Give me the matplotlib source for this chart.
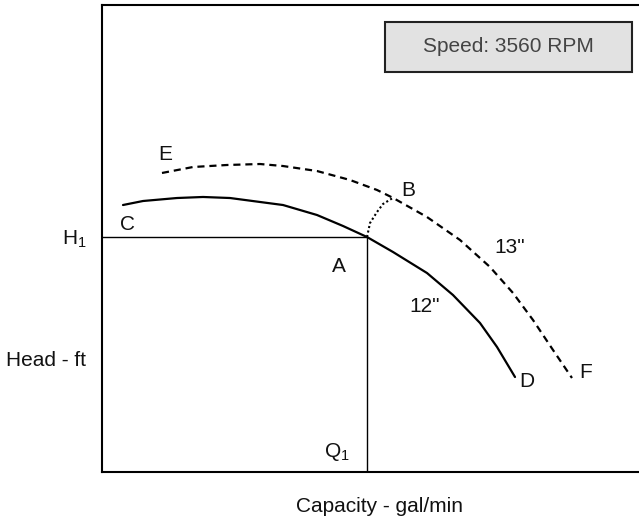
"""
Pump head-capacity curves for two impeller diameters at 3560 RPM.
"""
import matplotlib
matplotlib.use("Agg")
import matplotlib.pyplot as plt
from matplotlib.patches import Rectangle

plt.rcParams['font.family'] = ['Liberation Sans', 'DejaVu Sans']
plt.rcParams['mathtext.fontset'] = 'custom'
plt.rcParams['mathtext.rm'] = 'Liberation Sans'
plt.rcParams['mathtext.it'] = 'Liberation Sans'

# 12" impeller curve (C -> A -> D), capacity / head in relative units
q_12 = [3.91, 7.64, 13.97, 18.81, 23.84, 29.42, 33.71, 40.04, 44.88, 49.35,
        54.19, 60.52, 65.36, 70.39, 73.56, 76.91]
h_12 = [57.17, 58.03, 58.67, 58.89, 58.67, 57.82, 57.17, 55.03, 52.68, 50.32,
        47.11, 42.61, 37.90, 31.91, 26.77, 20.34]

# 13" impeller curve (E -> B -> F)
q_13 = [11.17, 16.95, 23.28, 29.42, 33.71, 40.04, 46.18, 51.21, 54.19, 60.52,
        66.67, 72.25, 76.54, 80.26, 83.99, 87.52]
h_13 = [64.03, 65.31, 65.74, 65.95, 65.52, 64.45, 62.53, 60.39, 58.70, 54.60,
        49.68, 43.90, 38.33, 32.55, 26.12, 20.13]

# A -> B path between the two curves
q_ab = [49.35, 49.91, 51.21, 52.33, 54.19]
h_ab = [50.32, 53.32, 55.67, 57.39, 58.70]

Q1 = 49.35
H1 = 50.32

# point labels: (text, capacity, head)
labels = [("E", 11.7, 67.9), ("C", 4.8, 53.1), ("B", 57.0, 60.2),
          ("A", 44.1, 43.9), ('13"', 76.0, 48.0), ('12"', 60.0, 35.5),
          ("D", 79.1, 19.3), ("F", 90.1, 21.2)]

fig = plt.figure(figsize=(6.39, 5.21), dpi=100)
ax = fig.add_axes([102 / 639, 49 / 521, 1.0 - 102 / 639, 467 / 521])
ax.set_xlim(0, 100)
ax.set_ylim(0, 100)

ax.plot(q_12, h_12, color='black', lw=1.6, solid_capstyle='round', solid_joinstyle='round')
ax.plot(q_13, h_13, color='black', lw=1.6, ls=(0, (3.2, 2.2)))
ax.plot(q_ab, h_ab, color='black', lw=1.5, ls=(0, (1, 1.2)))

# operating point guides
ax.plot([0, Q1], [H1, H1], color='black', lw=1.0)
ax.plot([Q1, Q1], [0, H1], color='black', lw=1.0)

for txt, q, h in labels:
    ax.text(q, h, txt, fontsize=15, ha='center', va='center', color='#111111')

ax.text(43.8, 4.3, r'Q$_1$', fontsize=15, ha='center', va='center', color='#111111')

ax.set_xticks([])
ax.set_yticks([H1])
ax.set_yticklabels([r'H$_1$'], fontsize=15, color='#111111')
ax.tick_params(axis='y', length=0, pad=11)

ax.set_ylabel('Head - ft', fontsize=15, rotation=0, ha='center', va='center', color='#111111')
ax.yaxis.set_label_coords(-56 / 537, (472 - 361) / 467)
ax.set_xlabel('Capacity - gal/min', fontsize=15, va='center', color='#111111')
ax.xaxis.set_label_coords((379 - 102) / 537, -35 / 467)

for side in ['left', 'bottom', 'top']:
    ax.spines[side].set_linewidth(1.5)
ax.spines['right'].set_visible(False)

# speed box
ax.add_patch(Rectangle((283 / 537, 400 / 467), 247 / 537, 50 / 467, transform=ax.transAxes,
                       fc='#e2e2e2', ec='#222222', lw=1.5))
ax.text(406 / 537, 425 / 467, 'Speed: 3560 RPM', transform=ax.transAxes, fontsize=15,
        color='#444444', ha='center', va='center')

fig.savefig('out.png', dpi=100)
